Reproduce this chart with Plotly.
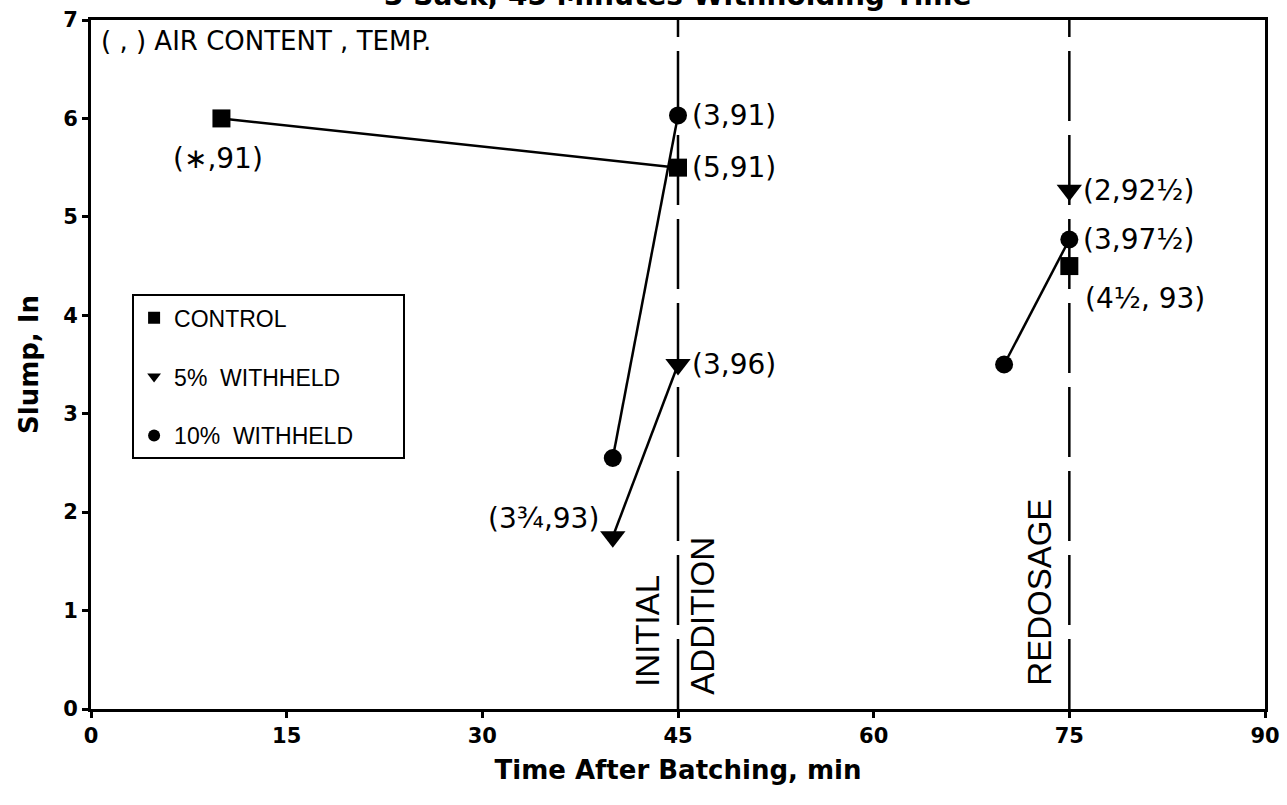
import plotly.graph_objects as go

# ---- data ----
control_x = [10, 45, None, 75]
control_y = [6.0, 5.5, None, 4.5]
w5_x = [40, 45, None, 75]
w5_y = [1.75, 3.5, None, 5.27]
w10_x = [40, 45, None, 70, 75]
w10_y = [2.55, 6.03, None, 3.5, 4.77]

# point labels: (x, y, text, side)
point_labels = [
    (10, 6.0, "(∗,91)", "below"),
    (45, 6.03, "(3,91)", "right"),
    (45, 5.5, "(5,91)", "right"),
    (45, 3.5, "(3,96)", "right"),
    (40, 1.75, "(3¾,93)", "left"),
    (75, 5.27, "(2,92½)", "right"),
    (75, 4.77, "(3,97½)", "right"),
    (75, 4.5, "(4½, 93)", "belowright"),
]

event_x = [45, 75]
x_ticks = [0, 15, 30, 45, 60, 75, 90]
y_ticks = [0, 1, 2, 3, 4, 5, 6, 7]

series_names = ["CONTROL", "5%  WITHHELD", "10%  WITHHELD"]
symbols = ["square", "triangle-down", "circle"]

fig = go.Figure()
line_style = dict(color="black", width=2.5)
fig.add_trace(go.Scatter(x=control_x, y=control_y, mode="lines+markers", line=line_style,
                         marker=dict(symbol="square", size=18, color="black"), showlegend=False))
fig.add_trace(go.Scatter(x=w5_x, y=w5_y, mode="lines+markers", line=line_style,
                         marker=dict(symbol="triangle-down", size=22, color="black"), showlegend=False))
fig.add_trace(go.Scatter(x=w10_x, y=w10_y, mode="lines+markers", line=line_style,
                         marker=dict(symbol="circle", size=18, color="black"), showlegend=False))

# legend entries (markers only)
for i, (name, sym) in enumerate(zip(series_names, symbols)):
    fig.add_trace(go.Scatter(x=[None], y=[None], mode="markers", name=name + "       ",
                             legendgroup=str(i),
                             marker=dict(symbol=sym, size=17, color="black")))

# event lines
for ex in event_x:
    fig.add_shape(type="line", x0=ex, x1=ex, y0=0, y1=7, xref="x", yref="y",
                  line=dict(color="black", width=2.5, dash="70px,14px"), layer="below")

font_lbl = "DejaVu Sans"
lbl_size = 28
for (px, py, txt, side) in point_labels:
    if side == "right":
        fig.add_annotation(x=px, y=py, text=txt, showarrow=False, xanchor="left",
                           yanchor="middle", xshift=12, font=dict(size=lbl_size, family=font_lbl, color="black"))
    elif side == "left":
        fig.add_annotation(x=px, y=py, text=txt, showarrow=False, xanchor="right",
                           yanchor="middle", xshift=-12, yshift=18,
                           font=dict(size=lbl_size, family=font_lbl, color="black"))
    elif side == "below":
        fig.add_annotation(x=px, y=py, text=txt, showarrow=False, xanchor="center",
                           yanchor="top", yshift=-22, xshift=-3,
                           font=dict(size=lbl_size, family=font_lbl, color="black"))
    else:
        fig.add_annotation(x=px, y=py, text=txt, showarrow=False, xanchor="left",
                           yanchor="top", xshift=14, yshift=-14,
                           font=dict(size=lbl_size, family=font_lbl, color="black"))

vfont = dict(size=33, family="Liberation Sans", color="black")
fig.add_annotation(x=45, y=0.2, text="INITIAL", textangle=-90, showarrow=False,
                   xanchor="right", yanchor="bottom", xshift=-10, font=vfont)
fig.add_annotation(x=45, y=0.12, text="ADDITION", textangle=-90, showarrow=False,
                   xanchor="left", yanchor="bottom", xshift=4, font=vfont)
fig.add_annotation(x=75, y=0.22, text="REDOSAGE", textangle=-90, showarrow=False,
                   xanchor="right", yanchor="bottom", xshift=-9, font=vfont)

fig.add_annotation(x=0, y=1, xref="paper", yref="paper", text="( , ) AIR CONTENT , TEMP.",
                   showarrow=False, xanchor="left", yanchor="top", xshift=8, yshift=-4,
                   font=dict(size=26, family="DejaVu Sans", color="black"))

# title (cut off at top in original)
fig.add_annotation(x=0.5, y=1, xref="paper", yref="paper",
                   text="<b>3 Sack, 45 Minutes Withholding Time</b>",
                   showarrow=False, xanchor="center", yanchor="bottom", yshift=6,
                   font=dict(size=28, family="DejaVu Sans", color="black"))

axis_common = dict(showline=True, linecolor="black", linewidth=3, mirror=True,
                   ticks="outside", tickcolor="black", tickwidth=3, ticklen=6,
                   showgrid=False, zeroline=False, automargin=False,
                   tickfont=dict(size=21, family="DejaVu Sans", color="black", weight="bold"))

fig.update_layout(
    width=1287, height=805,
    margin=dict(l=91, r=22, t=20, b=96, autoexpand=False),
    paper_bgcolor="white", plot_bgcolor="white",
    showlegend=True,
    legend=dict(x=0.035, y=0.602, xanchor="left", yanchor="top",
                bordercolor="black", borderwidth=2, bgcolor="white",
                font=dict(size=23, family="Liberation Sans", color="black"),
                tracegroupgap=26, itemsizing="constant"),
    xaxis=dict(range=[0, 90], tickvals=x_ticks, **axis_common,
               title=dict(text="<b>Time After Batching, min</b>", standoff=14,
                          font=dict(size=26, family="DejaVu Sans", color="black"))),
    yaxis=dict(range=[0, 7], tickvals=y_ticks, **axis_common,
               title=dict(text="<b>Slump, In</b>", standoff=18,
                          font=dict(size=26, family="DejaVu Sans", color="black"))),
)

fig.write_html("out.html", config={"displayModeBar": False},
               post_script="document.body.style.margin='0px';")
